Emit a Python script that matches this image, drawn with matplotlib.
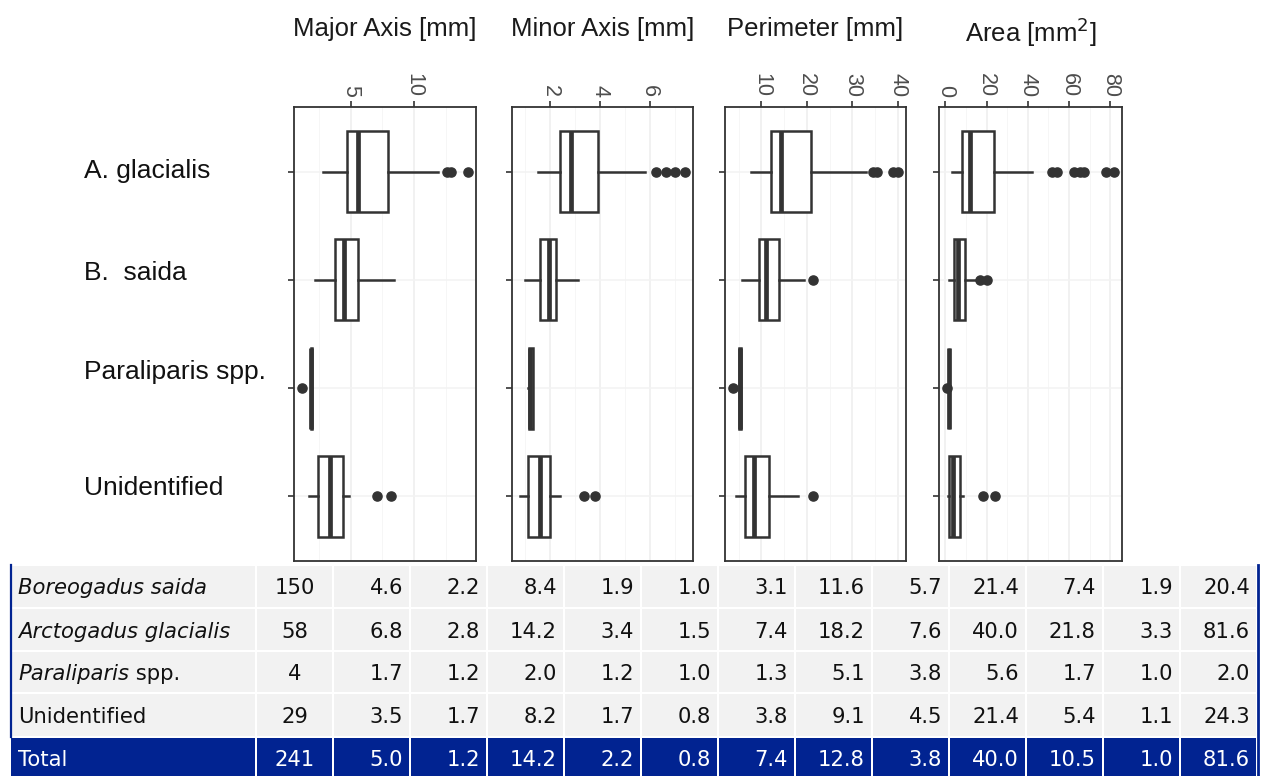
import matplotlib
matplotlib.use("Agg")
import matplotlib.pyplot as plt
from matplotlib.patches import Rectangle

W, H = 1263, 776

# ---- box-plot panels -------------------------------------------------------
species = ["A. glacialis", "B.  saida", "Paraliparis spp.", "Unidentified"]
metric_titles = ["Major Axis [mm]", "Minor Axis [mm]", "Perimeter [mm]", "Area [mm$^{2}$]"]

# five-number summaries, species in the order listed above
major_whislo = [2.8, 2.2, 1.85, 1.7]
major_q1 = [4.7, 3.8, 1.85, 2.4]
major_med = [5.6, 4.5, 1.9, 3.4]
major_q3 = [7.9, 5.6, 2.0, 4.4]
major_whishi = [11.9, 8.4, 2.0, 4.9]
major_fliers = [[12.6, 12.85, 14.2], [], [1.2], [7.1, 8.2]]

minor_whislo = [1.5, 1.0, 1.1, 0.8]
minor_q1 = [2.4, 1.6, 1.15, 1.1]
minor_med = [2.85, 1.95, 1.2, 1.6]
minor_q3 = [3.9, 2.25, 1.3, 2.0]
minor_whishi = [5.8, 3.1, 1.3, 2.4]
minor_fliers = [[6.25, 6.65, 7.0, 7.4], [], [], [3.35, 3.8]]

perim_whislo = [7.6, 5.7, 5.1, 4.5]
perim_q1 = [12.0, 9.4, 5.1, 6.4]
perim_med = [14.4, 11.1, 5.3, 8.3]
perim_q3 = [21.0, 13.8, 5.5, 11.6]
perim_whishi = [33.1, 19.3, 5.6, 18.1]
perim_fliers = [[34.5, 35.4, 38.9, 40.0], [21.4], [3.8], [21.4]]

area_whislo = [3.3, 1.9, 1.6, 1.1]
area_q1 = [7.9, 4.4, 1.6, 1.6]
area_med = [12.0, 6.0, 1.8, 3.8]
area_q3 = [23.4, 9.8, 2.0, 7.2]
area_whishi = [41.8, 15.0, 2.0, 8.8]
area_fliers = [[51.7, 54.0, 62.4, 65.4, 67.3, 78.0, 81.6], [16.6, 20.4], [1.0], [18.5, 24.3]]

major_breaks = [5, 10]
minor_breaks = [2, 4, 6]
perim_breaks = [10, 20, 30, 40]
area_breaks = [0, 20, 40, 60, 80]
major_minor_grid = [2.5, 7.5, 12.5]
minor_minor_grid = [1, 3, 5, 7]
perim_minor_grid = [5, 15, 25, 35]
area_minor_grid = [10, 30, 50, 70]

# ---- summary table ---------------------------------------------------------
table_rows = ["Boreogadus saida", "Arctogadus glacialis", "Paraliparis spp.", "Unidentified", "Total"]
table_n = [150, 58, 4, 29, 241]
table_major = [[4.6, 2.2, 8.4], [6.8, 2.8, 14.2], [1.7, 1.2, 2.0], [3.5, 1.7, 8.2], [5.0, 1.2, 14.2]]
table_minor = [[1.9, 1.0, 3.1], [3.4, 1.5, 7.4], [1.2, 1.0, 1.3], [1.7, 0.8, 3.8], [2.2, 0.8, 7.4]]
table_perim = [[11.6, 5.7, 21.4], [18.2, 7.6, 40.0], [5.1, 3.8, 5.6], [9.1, 4.5, 21.4], [12.8, 3.8, 40.0]]
table_area = [[7.4, 1.9, 20.4], [21.8, 3.3, 81.6], [1.7, 1.0, 2.0], [5.4, 1.1, 24.3], [10.5, 1.0, 81.6]]

INK = "#333333"
BLUE = "#012391"
GRAY = "#F2F2F2"
SANS = "Liberation Sans"
TABLE_FS = 15.2

fig = plt.figure(figsize=(W / 100, H / 100), dpi=100)
fig.patch.set_facecolor("white")


def px_axes(x0, y0, x1, y1, **kw):
    return fig.add_axes([x0 / W, 1 - y1 / H, (x1 - x0) / W, (y1 - y0) / H], **kw)


def summaries(lo, q1, med, q3, hi, fl):
    return [dict(whislo=a, q1=b, med=c, q3=d, whishi=e, fliers=f)
            for a, b, c, d, e, f in zip(lo, q1, med, q3, hi, fl)]


panels = [
    (summaries(major_whislo, major_q1, major_med, major_q3, major_whishi, major_fliers),
     major_breaks, major_minor_grid),
    (summaries(minor_whislo, minor_q1, minor_med, minor_q3, minor_whishi, minor_fliers),
     minor_breaks, minor_minor_grid),
    (summaries(perim_whislo, perim_q1, perim_med, perim_q3, perim_whishi, perim_fliers),
     perim_breaks, perim_minor_grid),
    (summaries(area_whislo, area_q1, area_med, area_q3, area_whishi, area_fliers),
     area_breaks, area_minor_grid),
]

panel_left = [294, 512, 725, 939]
panel_right = [476, 693, 906, 1122]
panel_top, panel_bottom = 107, 561
title_baseline = [36, 36, 36, 42]
positions = [4, 3, 2, 1]

for i, (stats, breaks, minor_grid) in enumerate(panels):
    ax = px_axes(panel_left[i], panel_top, panel_right[i], panel_bottom)
    kw = dict(positions=positions, widths=0.75, patch_artist=True, showcaps=False,
              boxprops=dict(facecolor="white", edgecolor=INK, linewidth=1.8),
              whiskerprops=dict(color=INK, linewidth=1.8),
              medianprops=dict(color=INK, linewidth=3.4, solid_capstyle="butt"),
              flierprops=dict(marker="o", markerfacecolor=INK, markeredgecolor=INK,
                              markersize=6.6, linestyle="none"),
              manage_ticks=False)
    try:
        ax.bxp(stats, orientation="horizontal", **kw)
    except TypeError:
        ax.bxp(stats, vert=False, **kw)

    values = [s["whislo"] for s in stats] + [s["whishi"] for s in stats]
    for s in stats:
        values += list(s["fliers"])
    lo, hi = min(values), max(values)
    pad = 0.05 * (hi - lo)
    ax.set_xlim(lo - pad, hi + pad)
    ax.set_ylim(0.4, 4.6)

    ax.set_xticks(breaks)
    ax.set_xticks(minor_grid, minor=True)
    ax.set_yticks(positions)
    ax.set_axisbelow(True)
    ax.grid(which="major", axis="x", color="#EEEEEE", linewidth=1.1)
    ax.grid(which="minor", axis="x", color="#F6F6F6", linewidth=0.7)
    ax.grid(which="major", axis="y", color="#F3F3F3", linewidth=1.1)

    ax.xaxis.set_ticks_position("top")
    ax.tick_params(axis="x", which="major", top=True, bottom=False, labeltop=True,
                   labelbottom=False, labelrotation=-90, labelsize=15.5,
                   labelcolor="#4D4D4D", length=4.5, width=1.2, color=INK, pad=2.5)
    ax.tick_params(axis="x", which="minor", length=0)
    ax.tick_params(axis="y", left=True, labelleft=False, length=4.5, width=1.2, color=INK)
    for lab in ax.get_xticklabels():
        lab.set_fontfamily(SANS)
    for sp in ax.spines.values():
        sp.set_color(INK)
        sp.set_linewidth(1.3)

    cx = (panel_left[i] + panel_right[i]) / 2 / W
    fig.text(cx, 1 - title_baseline[i] / H, metric_titles[i], ha="center", va="baseline",
             fontsize=18.5, family=SANS, color="#1A1A1A")

label_baseline = [178, 280, 379, 495]
for name, yb in zip(species, label_baseline):
    fig.text(84 / W, 1 - yb / H, name, ha="left", va="baseline", fontsize=19,
             family=SANS, color="#111111")

# ---- table drawing ---------------------------------------------------------
tab = fig.add_axes([0, 0, 1, 1], zorder=-1)
tab.set_xlim(0, W)
tab.set_ylim(H, 0)
tab.axis("off")

col_edges = [10, 256, 333, 410, 487, 564, 641, 718, 795, 872, 949, 1026, 1103, 1180, 1257]
row_edges = [565, 608, 651, 693, 737, 779]
gap = 1.3
renderer = fig.canvas.get_renderer()

for r, name in enumerate(table_rows):
    total = name == "Total"
    face = BLUE if total else GRAY
    txt = "white" if total else "#111111"
    y0, y1 = row_edges[r], row_edges[r + 1]
    for c in range(len(col_edges) - 1):
        x0, x1 = col_edges[c], col_edges[c + 1]
        tab.add_patch(Rectangle((x0 + gap, y0 + gap), x1 - x0 - 2 * gap, y1 - y0 - 2 * gap,
                                facecolor=face, edgecolor="none"))
    yc = (y0 + y1) / 2
    cells = [table_major[r], table_minor[r], table_perim[r], table_area[r]]
    nums = [v for group in cells for v in group]
    tab.text((col_edges[1] + col_edges[2]) / 2, yc, str(table_n[r]), ha="center",
             va="center_baseline", fontsize=TABLE_FS, color=txt, family="DejaVu Sans")
    for k, v in enumerate(nums):
        tab.text(col_edges[k + 3] - 7, yc, f"{v:.1f}", ha="right", va="center_baseline",
                 fontsize=TABLE_FS, color=txt, family="DejaVu Sans")
    if name.endswith(" spp."):
        genus = name[:-5]
        t = tab.text(18, yc, genus, ha="left", va="center_baseline", fontsize=TABLE_FS,
                     color=txt, family="DejaVu Sans", style="italic")
        bb = t.get_window_extent(renderer=renderer)
        tab.text(18 + bb.width, yc, " spp.", ha="left", va="center_baseline",
                 fontsize=TABLE_FS, color=txt, family="DejaVu Sans")
    else:
        italic = name not in ("Unidentified", "Total")
        tab.text(18, yc, name, ha="left", va="center_baseline", fontsize=TABLE_FS, color=txt,
                 family="DejaVu Sans", style="italic" if italic else "normal")

tab.plot([10.5, 10.5], [row_edges[0], row_edges[4]], color=BLUE, linewidth=1.6)
tab.plot([1258, 1258], [row_edges[0], H], color=BLUE, linewidth=2.0)

fig.savefig("out.png", dpi=100, facecolor="white")
